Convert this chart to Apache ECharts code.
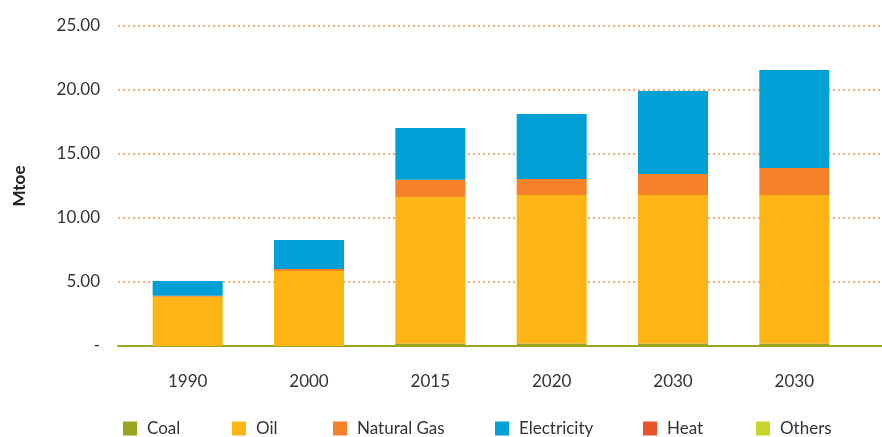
<!DOCTYPE html>
<html><head><meta charset="utf-8">
<script src="https://cdn.jsdelivr.net/npm/echarts@6/dist/echarts.min.js"></script>
<style>html,body{margin:0;padding:0;background:#fff}#c{width:882px;height:437px}</style>
</head><body><div id="c"></div>
<script>
const categories = ['1990', '2000', '2015', '2020', '2030', '2030'];
const coal = [0, 0, 0.2, 0.2, 0.2, 0.2];
const oil = [3.85, 5.86, 11.44, 11.6, 11.6, 11.6];
const naturalGas = [0.08, 0.16, 1.35, 1.25, 1.64, 2.1];
const electricity = [1.15, 2.26, 4.04, 5.07, 6.48, 7.66];
const heat = [0, 0, 0, 0, 0, 0];
const others = [0, 0, 0, 0, 0, 0];
const yTicks = [0, 5, 10, 15, 20, 25];

const FONT = 'Lato';
const seriesDefs = [
  {name: 'Coal', data: coal, color: '#9AA51F'},
  {name: 'Oil', data: oil, color: '#FDB515'},
  {name: 'Natural Gas', data: naturalGas, color: '#F5812A'},
  {name: 'Electricity', data: electricity, color: '#009FD6'},
  {name: 'Heat', data: heat, color: '#E8542A'},
  {name: 'Others', data: others, color: '#C8D62B'}
];
const legendLeft = [123, 232, 333, 495, 643, 756];

const chart = echarts.init(document.getElementById('c'), null, {renderer: 'canvas'});
chart.setOption({
  animation: false,
  textStyle: {fontFamily: FONT},
  grid: [
    {left: 127, right: 27, top: 26, bottom: 91},
    {left: 118, right: 0, top: 26, bottom: 91}
  ],
  legend: seriesDefs.map((s, i) => ({
    data: [s.name], left: legendLeft[i], top: 420, icon: 'rect',
    itemWidth: 14, itemHeight: 14, itemGap: 0, padding: 0,
    textStyle: {fontFamily: FONT, fontSize: 17, color: '#333', padding: [0, 0, 0, 5]},
    selectedMode: false
  })),
  xAxis: [
    {type: 'category', data: categories, gridIndex: 0,
     axisLine: {show: false}, axisTick: {show: false},
     axisLabel: {fontSize: 17, color: '#333', margin: 27, fontFamily: FONT}},
    {type: 'value', gridIndex: 1, min: 0, max: 1,
     axisLine: {show: true, lineStyle: {color: '#9AA51F', width: 2}},
     axisTick: {show: false}, axisLabel: {show: false}, splitLine: {show: false}}
  ],
  yAxis: [
    {type: 'value', gridIndex: 0, min: 0, max: 25, interval: 5,
     name: 'Mtoe', nameLocation: 'middle', nameGap: 99, nameRotate: 90,
     nameTextStyle: {fontSize: 17, fontWeight: 'bold', color: '#222', fontFamily: FONT},
     axisLine: {show: false}, axisTick: {show: false}, splitLine: {show: false},
     axisLabel: {fontSize: 17, color: '#333', margin: 27, fontFamily: FONT,
       formatter: v => yTicks.includes(v) ? (v === 0 ? '-' : v.toFixed(2)) : ''}},
    {type: 'value', gridIndex: 1, min: 0, max: 25, interval: 5,
     axisLine: {show: false}, axisTick: {show: false}, axisLabel: {show: false},
     splitLine: {show: true, lineStyle: {color: '#F5812A', type: [2, 3], width: 1.5, opacity: 0.85}}}
  ],
  series: seriesDefs.map(s => ({
    name: s.name, type: 'bar', stack: 'total', data: s.data, barWidth: 70,
    xAxisIndex: 0, yAxisIndex: 0,
    itemStyle: {color: s.color}
  }))
});
</script></body></html>
